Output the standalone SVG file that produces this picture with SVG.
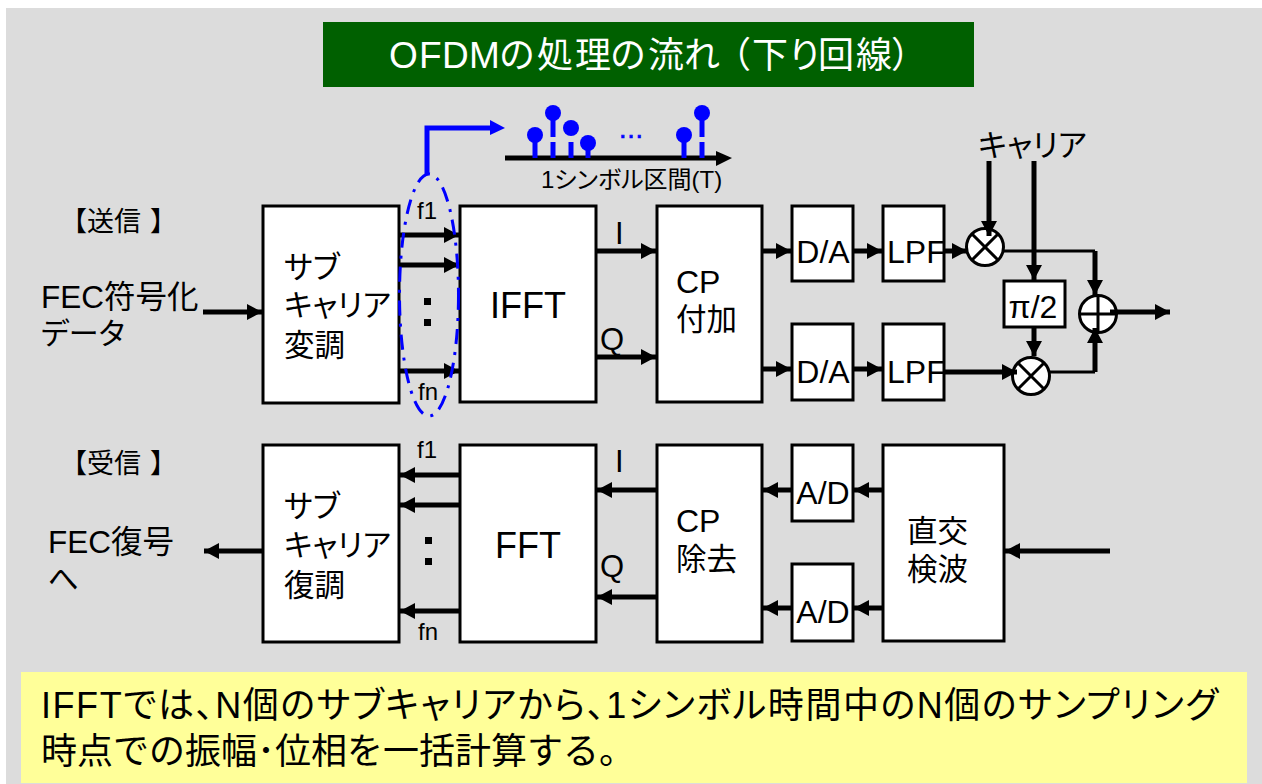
<svg xmlns="http://www.w3.org/2000/svg" width="1262" height="784" viewBox="0 0 1262 784">
<style>
text{font-family:"Liberation Sans","Noto Sans CJK JP",sans-serif;fill:#000;font-feature-settings:"palt"}
text.n{font-feature-settings:normal}
.b{fill:#fff;stroke:#000;stroke-width:3}
.c{fill:#fff;stroke:#000;stroke-width:3}
.l{fill:none;stroke:#000;stroke-width:3}
.t{fill:none;stroke:#000;stroke-width:5}
.f30{font-size:32px}.j{font-size:30.500px}.f27{font-size:27px}.f31{font-size:31px}.f35{font-size:36px}.f21{font-size:24px}.f20{font-size:24px}
.m{text-anchor:middle}
</style>
<defs>
<marker id="ar" markerUnits="userSpaceOnUse" markerWidth="16" markerHeight="16" refX="15" refY="8" orient="auto"><path d="M0,0L15,8L0,16Z" fill="#000"/></marker>
</defs>
<rect x="6" y="8" width="1256" height="776" fill="#dcdcdc"/>
<g id="title"><rect x="323" y="22" width="651" height="65" fill="#006000"/><text class="n" y="68" font-size="36" style="fill:#fff"><tspan x="389 419 442 469" font-size="37">OFDM</tspan><tspan x="499 537 575 610 648 684 715 752 787 818 856 891">の処理の流れ（下り回線）</tspan></text></g>
<g id="labels">
<text class="n f27" x="60 87 114 150" y="231">【送信】</text>
<text class="n f27" x="60 87 114 150" y="473">【受信】</text>
<text x="41" y="308" font-size="31.500">FEC符号化</text>
<text x="41" y="344" font-size="30">データ</text>
<text x="48" y="553" font-size="31.500">FEC復号</text>
<text x="48" y="590" class="j">へ</text>
</g>
<g id="tx-mod"><rect class="b" x="263" y="206" width="136" height="197"/><text x="284" y="278" class="j">サブ</text><text x="284" y="316" class="j">キャリア</text><text x="284" y="356" class="j">変調</text></g>
<g id="ifft"><rect class="b" x="460" y="206" width="136" height="196"/><text x="528" y="318" class="f35 m">IFFT</text></g>
<g id="cp-add"><rect class="b" x="657" y="206" width="105" height="196"/><text x="676" y="293" class="f30">CP</text><text x="676" y="330" class="j">付加</text></g>
<g id="da1"><rect class="b" x="792" y="206" width="61" height="75"/><text x="823" y="263" class="f30 m">D/A</text></g>
<g id="da2"><rect class="b" x="792" y="324" width="61" height="76"/><text x="823" y="383" class="f30 m">D/A</text></g>
<g id="lpf1"><rect class="b" x="883" y="206" width="61" height="75"/><text x="887" y="263" class="f30">LPF</text></g>
<g id="lpf2"><rect class="b" x="883" y="324" width="61" height="76"/><text x="887" y="383" class="f30">LPF</text></g>
<g id="mix1"><circle class="c" cx="985" cy="247" r="18.5"/><path class="l" d="M972,234L998,260M998,234L972,260"/></g>
<g id="mix2"><circle class="c" cx="1031" cy="376" r="18.5"/><path class="l" d="M1018,363L1044,389M1044,363L1018,389"/></g>
<g id="phase"><rect class="b" x="1004" y="281" width="61" height="46"/><text x="1033" y="318" class="f30 m">π/2</text></g>
<g id="sum"><circle class="c" cx="1098" cy="314" r="18.5"/><path class="l" d="M1079.500,314H1116.500M1098,295.500V332.500"/></g>
<g id="rx-demod"><rect class="b" x="263" y="445" width="136" height="197"/><text x="284" y="517" class="j">サブ</text><text x="284" y="556" class="j">キャリア</text><text x="284" y="596" class="j">復調</text></g>
<g id="fft"><rect class="b" x="460" y="445" width="136" height="197"/><text x="528" y="558" class="f35 m">FFT</text></g>
<g id="cp-rem"><rect class="b" x="657" y="445" width="105" height="197"/><text x="676" y="532" class="f30">CP</text><text x="676" y="570" class="j">除去</text></g>
<g id="ad1"><rect class="b" x="792" y="445" width="61" height="76"/><text x="823" y="504" class="f30 m">A/D</text></g>
<g id="ad2"><rect class="b" x="792" y="564" width="61" height="77"/><text x="823" y="623" class="f30 m">A/D</text></g>
<g id="iq-det"><rect class="b" x="883" y="445" width="121" height="196"/><text x="907" y="542" class="j">直交</text><text x="907" y="580" class="j">検波</text></g>
<g id="connectors">
<path class="t" marker-end="url(#ar)" d="M203,312H262"/>
<path class="t" marker-end="url(#ar)" d="M399,235H459"/>
<path class="t" marker-end="url(#ar)" d="M399,265H459"/>
<path class="t" marker-end="url(#ar)" d="M399,371H459"/>
<path class="t" marker-end="url(#ar)" d="M596,251H656"/>
<path class="t" marker-end="url(#ar)" d="M596,357H656"/>
<path class="t" marker-end="url(#ar)" d="M762,251H791"/>
<path class="t" marker-end="url(#ar)" d="M762,369H791"/>
<path class="t" marker-end="url(#ar)" d="M853,251H882"/>
<path class="t" marker-end="url(#ar)" d="M853,369H882"/>
<path class="t" marker-end="url(#ar)" d="M944,251H967"/>
<path class="t" marker-end="url(#ar)" d="M944,372H1017"/>
<path class="t" marker-end="url(#ar)" d="M989,161V236"/>
<path class="t" marker-end="url(#ar)" d="M1034,161V280"/>
<path class="t" marker-end="url(#ar)" d="M1034,327V356"/>
<path class="l" d="M1004,251H1095"/>
<path class="t" marker-end="url(#ar)" d="M1095,251V295"/>
<path class="l" d="M1050,372H1095"/>
<path class="t" marker-end="url(#ar)" d="M1095,372V328"/>
<path class="t" marker-end="url(#ar)" d="M1110,312H1170"/>
<path class="t" marker-end="url(#ar)" d="M459,475H400"/>
<path class="t" marker-end="url(#ar)" d="M459,505H400"/>
<path class="t" marker-end="url(#ar)" d="M459,611H400"/>
<path class="t" marker-end="url(#ar)" d="M656,490H597"/>
<path class="t" marker-end="url(#ar)" d="M656,597H597"/>
<path class="t" marker-end="url(#ar)" d="M791,490H763"/>
<path class="t" marker-end="url(#ar)" d="M791,608H763"/>
<path class="t" marker-end="url(#ar)" d="M882,490H854"/>
<path class="t" marker-end="url(#ar)" d="M882,608H854"/>
<path class="t" marker-end="url(#ar)" d="M1110,551H1005"/>
<path class="t" marker-end="url(#ar)" d="M262,551H204"/>
</g>
<g id="small-labels">
<text x="417" y="219" class="f21">f1</text><text x="418" y="400" class="f21">fn</text>
<text x="417" y="458" class="f21">f1</text><text x="418" y="640" class="f21">fn</text>
<text x="615" y="244" class="f31">I</text><text x="600" y="350" class="f31">Q</text>
<text x="615" y="472" class="f31">I</text><text x="600" y="577" class="f31">Q</text>
<rect x="424" y="298" width="7" height="7"/><rect x="424" y="319" width="7" height="7"/>
<rect x="425" y="537" width="7" height="7"/><rect x="425" y="558" width="7" height="7"/>
<text x="978" y="156" font-size="31">キャリア</text>
<text x="541" y="188" class="f20">1シンボル区間(T)</text>
</g>
<g id="spectrum">
<ellipse cx="429" cy="295" rx="29.500" ry="121" fill="none" stroke="#0000ff" stroke-width="3" stroke-dasharray="15 8 3 8"/>
<path d="M427,174V128H490" fill="none" stroke="#0000ff" stroke-width="5"/><path d="M490,120L505,128L490,135Z" fill="#0000ff"/>
<path d="M505,158H720" stroke="#000" stroke-width="5"/><path d="M716,151L732,158L716,166Z"/>
<g stroke="#0000ff" stroke-width="5" fill="none">
<path d="M535,135V158M553,113V137M553,142V158M571,142V158M588,143V158M684,135V158M702,113V137M702,142V158"/>
</g>
<g fill="#0000ff"><circle cx="535" cy="135" r="8"/><circle cx="553" cy="113" r="8"/><circle cx="571" cy="128" r="8"/><circle cx="588" cy="143" r="8"/><circle cx="684" cy="135" r="8"/><circle cx="702" cy="113" r="8"/></g>
<text x="631" y="138" class="m" font-size="26" stroke="#0000ff" stroke-width="0.7" style="fill:#0000ff">…</text>
</g>
<g id="note"><rect x="21" y="672" width="1226" height="111" fill="#ffff99"/>
<text x="41" y="718" font-size="36" textLength="1177" lengthAdjust="spacing">IFFTでは、N個のサブキャリアから、1シンボル時間中のN個のサンプリング</text>
<text class="n" x="41" y="764" font-size="36">時点での振幅･位相を一括計算する。</text></g>
</svg>
